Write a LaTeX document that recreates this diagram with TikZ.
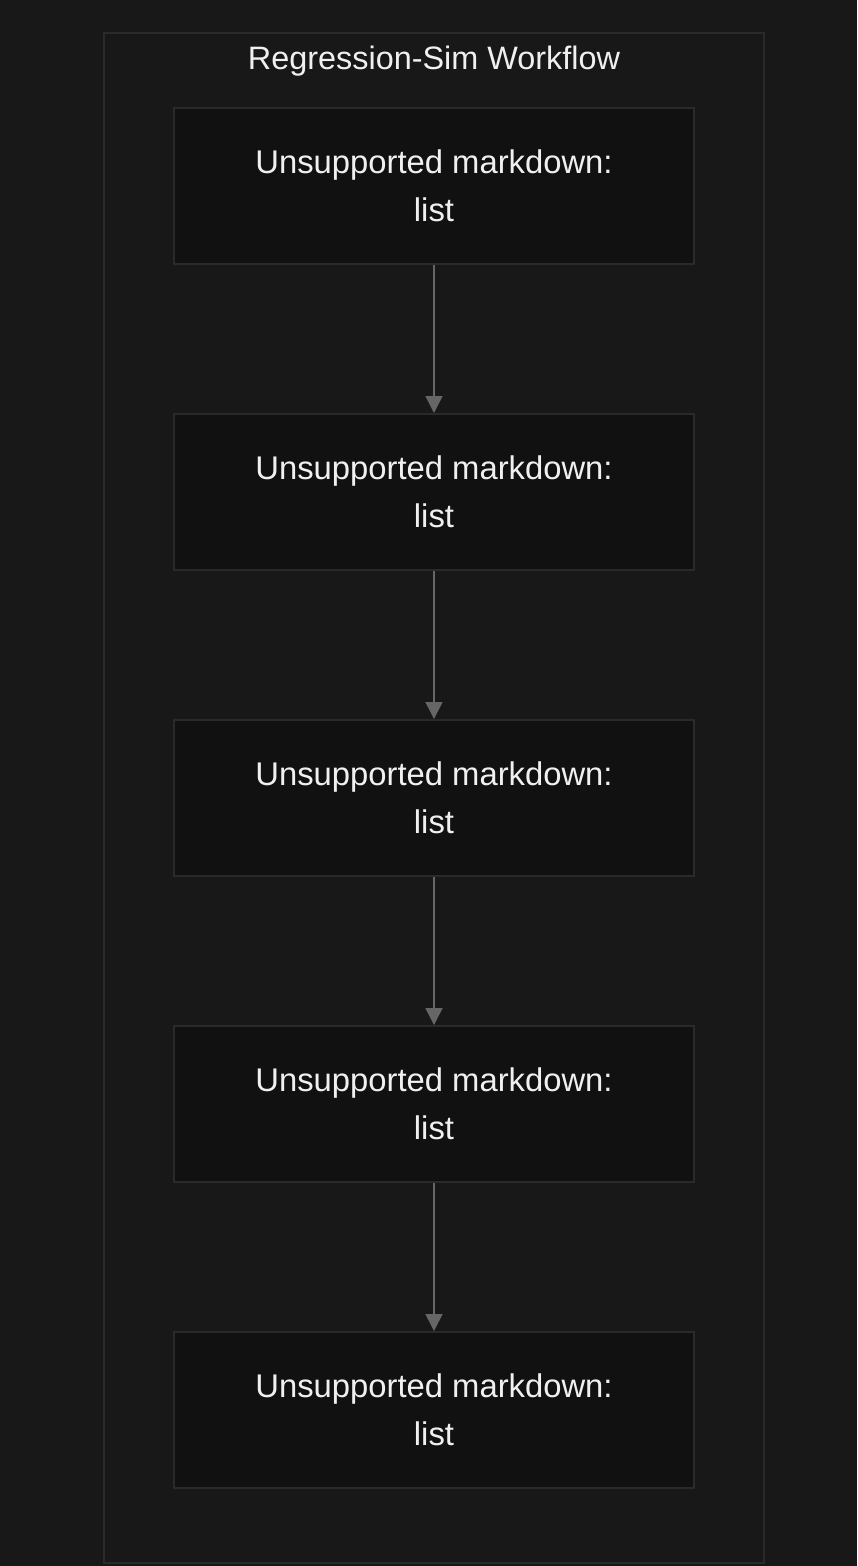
\documentclass[tikz,border=0pt]{standalone}
\usepackage{fontspec}
\setmainfont{Liberation Sans}
\usetikzlibrary{arrows.meta}
\definecolor{bgc}{HTML}{181818}
\definecolor{clfill}{HTML}{181818}
\definecolor{bordc}{HTML}{2A2A2A}
\definecolor{nodefill}{HTML}{111111}
\definecolor{arrc}{HTML}{666666}
\definecolor{txtc}{HTML}{F0F0F0}
\begin{document}
\begin{tikzpicture}[x=1pt,y=-1pt,
  stepbox/.style={draw=bordc, line width=2pt, fill=nodefill, minimum width=520pt, minimum height=156pt, inner sep=0pt, text=txtc, align=center, font=\fontsize{32.8}{48}\selectfont},
  flow/.style={draw=arrc, line width=1.5pt, -{Triangle[length=17pt,width=17pt]}},
  cluster/.style={draw=bordc, line width=2pt, fill=clfill}]
\fill[bgc] (0,0) rectangle (857,1566);
\useasboundingbox (0,0) rectangle (857,1566);
\node[cluster, minimum width=660pt, minimum height=1530pt, inner sep=0pt] (cl) at (434,798) {};
\node[text=txtc, font=\fontsize{32.4}{36}\selectfont] (title) at (434,61) {Regression-Sim Workflow};
\node[stepbox] (n1) at (434,186) {Unsupported markdown:\\list};
\node[stepbox] (n2) at (434,492) {Unsupported markdown:\\list};
\node[stepbox] (n3) at (434,798) {Unsupported markdown:\\list};
\node[stepbox] (n4) at (434,1104) {Unsupported markdown:\\list};
\node[stepbox] (n5) at (434,1410) {Unsupported markdown:\\list};
\draw[flow] (n1) -- (n2);
\draw[flow] (n2) -- (n3);
\draw[flow] (n3) -- (n4);
\draw[flow] (n4) -- (n5);
\end{tikzpicture}
\end{document}
